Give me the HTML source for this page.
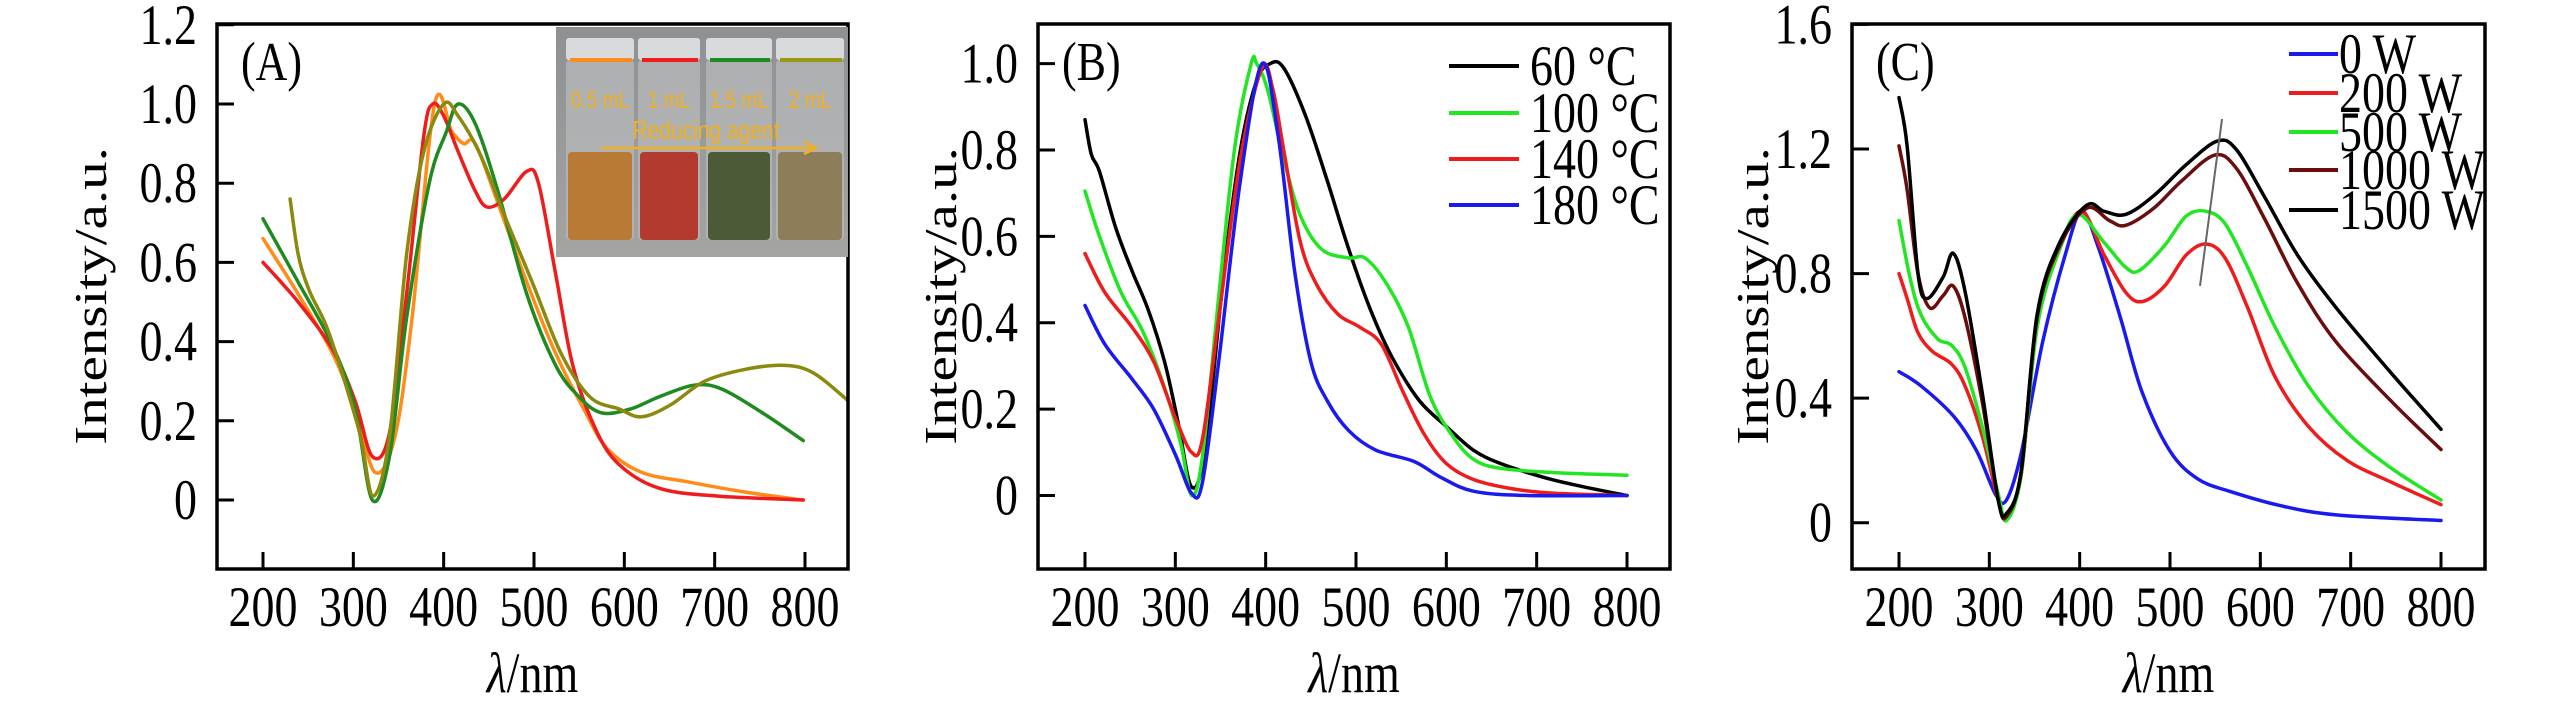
<!DOCTYPE html>
<html><head><meta charset="utf-8"><style>
html,body{margin:0;padding:0;background:#fff}
svg{display:block}
text{font-family:"Liberation Serif",serif;fill:#000}
text.sans{font-family:"Liberation Sans",sans-serif;fill:#f2b01e}
</style></head><body>
<svg id="fig" width="2567" height="709" viewBox="0 0 2567 709" xmlns="http://www.w3.org/2000/svg">
<defs>
<clipPath id="clipA"><rect x="217" y="24" width="631" height="546"/></clipPath>
<clipPath id="clipB"><rect x="1038" y="24" width="632" height="545"/></clipPath>
<clipPath id="clipC"><rect x="1852" y="24" width="633" height="545"/></clipPath>
<linearGradient id="bg" x1="0" y1="0" x2="0" y2="1"><stop offset="0" stop-color="#8e9092"/><stop offset="1" stop-color="#a4a4a2"/></linearGradient>
</defs>
<g id="panelA"></g>
<g id="panelB"></g>
<g id="panelC"></g>
</svg>
<script>
// ---------- data ----------
const xTicks = [200,300,400,500,600,700,800];
const yTicksA = [0,0.2,0.4,0.6,0.8,1.0,1.2];
const yTickLabelsA = ["0","0.2","0.4","0.6","0.8","1.0","1.2"];
const yTicksB = [0,0.2,0.4,0.6,0.8,1.0];
const yTickLabelsB = ["0","0.2","0.4","0.6","0.8","1.0"];
const yTicksC = [0,0.4,0.8,1.2,1.6];
const yTickLabelsC = ["0","0.4","0.8","1.2","1.6"];

const seriesNamesA = ["0.5 mL","1 mL","1.5 mL","2 mL"];
const a05 = [[200,0.66],[239,0.52],[277,0.37],[302,0.23],[324,0.07],[346,0.16],[365,0.46],[390,1.0],[409,0.93],[422,0.9],[435,0.9],[460,0.75],[492,0.55],[524,0.37],[555,0.23],[581,0.13],[619,0.07],[670,0.046],[734,0.02],[798,0]];
const a10 = [[200,0.6],[239,0.5],[277,0.38],[302,0.25],[321,0.11],[340,0.17],[359,0.52],[378,0.92],[388,1.0],[400,0.97],[416,0.88],[435,0.78],[448,0.74],[467,0.76],[492,0.83],[505,0.8],[524,0.57],[543,0.34],[568,0.18],[594,0.09],[638,0.03],[702,0.01],[798,0]];
const a15 = [[200,0.71],[239,0.55],[277,0.39],[302,0.23],[321,0],[340,0.11],[359,0.46],[384,0.8],[403,0.93],[416,1.0],[435,0.95],[460,0.78],[492,0.52],[524,0.34],[550,0.26],[575,0.22],[607,0.23],[638,0.26],[677,0.29],[708,0.28],[753,0.22],[798,0.15]];
const a20 = [[230,0.76],[239,0.62],[251,0.53],[270,0.44],[289,0.31],[308,0.16],[322,0.01],[340,0.16],[359,0.62],[378,0.88],[400,1.0],[416,0.97],[441,0.87],[467,0.72],[498,0.55],[530,0.37],[562,0.26],[594,0.23],[619,0.21],[651,0.24],[689,0.3],[734,0.33],[778,0.34],[810,0.32],[848,0.25]];

const seriesNamesB = ["60 °C","100 °C","140 °C","180 °C"];
const b60 = [[200,0.87],[207,0.79],[216,0.75],[234,0.62],[252,0.52],[270,0.43],[288,0.31],[303,0.17],[318,0.02],[333,0.11],[354,0.52],[372,0.8],[390,0.96],[405,1.0],[420,0.99],[444,0.88],[468,0.73],[492,0.57],[516,0.43],[540,0.32],[570,0.22],[600,0.16],[630,0.105],[660,0.074],[708,0.042],[750,0.021],[800,0]];
const b100 = [[200,0.705],[216,0.6],[240,0.47],[264,0.38],[288,0.25],[306,0.12],[318,0],[330,0.09],[348,0.46],[366,0.81],[384,1.0],[390,1.0],[402,0.94],[420,0.78],[438,0.65],[462,0.57],[492,0.55],[510,0.55],[534,0.49],[558,0.39],[582,0.23],[606,0.14],[630,0.084],[660,0.063],[720,0.053],[800,0.047]];
const b140 = [[200,0.56],[222,0.47],[252,0.39],[276,0.31],[300,0.18],[318,0.1],[330,0.13],[348,0.41],[372,0.78],[396,0.99],[408,0.94],[420,0.8],[438,0.59],[456,0.49],[480,0.42],[504,0.39],[528,0.35],[552,0.24],[576,0.14],[600,0.074],[630,0.037],[672,0.016],[720,0.005],[800,0]];
const b180 = [[200,0.44],[222,0.35],[252,0.27],[276,0.2],[300,0.095],[318,0.005],[330,0.03],[348,0.31],[372,0.73],[396,1.0],[414,0.83],[432,0.52],[450,0.31],[468,0.22],[492,0.15],[522,0.105],[564,0.079],[594,0.042],[630,0.01],[690,0],[800,0]];

const seriesNamesC = ["0 W","200 W","500 W","1000 W","1500 W"];
const c0 = [[200,0.485],[224,0.44],[261,0.34],[286,0.23],[307,0.09],[319,0.073],[335,0.22],[359,0.58],[384,0.86],[402,1.0],[420,0.89],[445,0.66],[469,0.42],[500,0.23],[531,0.14],[567,0.1],[622,0.055],[684,0.025],[800,0.007]];
const c200 = [[200,0.8],[209,0.72],[221,0.61],[237,0.55],[258,0.51],[273,0.44],[292,0.28],[310,0.07],[319,0.015],[335,0.15],[353,0.63],[378,0.88],[402,1.0],[427,0.86],[451,0.74],[469,0.71],[494,0.76],[518,0.86],[540,0.895],[561,0.85],[586,0.69],[616,0.47],[653,0.31],[696,0.2],[745,0.13],[800,0.058]];
const c500 = [[200,0.97],[212,0.79],[224,0.67],[243,0.59],[258,0.57],[273,0.5],[292,0.31],[310,0.09],[319,0.007],[335,0.15],[353,0.63],[378,0.88],[398,0.99],[427,0.9],[451,0.82],[466,0.81],[494,0.89],[518,0.985],[540,1.0],[561,0.96],[586,0.82],[616,0.63],[653,0.44],[696,0.29],[745,0.175],[800,0.073]];
const c1000 = [[200,1.21],[209,1.07],[221,0.8],[234,0.69],[249,0.73],[260,0.76],[273,0.66],[292,0.39],[310,0.07],[319,0.02],[335,0.16],[353,0.66],[378,0.89],[408,1.01],[433,0.97],[451,0.955],[482,1.01],[512,1.095],[549,1.18],[573,1.14],[604,0.98],[641,0.77],[684,0.58],[745,0.39],[800,0.235]];
const c1500 = [[200,1.365],[209,1.21],[221,0.8],[231,0.72],[249,0.79],[260,0.865],[273,0.745],[292,0.42],[310,0.07],[319,0.03],[335,0.16],[353,0.67],[378,0.9],[408,1.02],[427,1.0],[451,0.99],[482,1.05],[518,1.15],[552,1.225],[573,1.2],[604,1.05],[641,0.86],[684,0.69],[745,0.48],[800,0.3]];

// ---------- helpers ----------
const NS = "http://www.w3.org/2000/svg";
function mk(tag, attrs, parent){const e=document.createElementNS(NS,tag);for(const k in attrs)e.setAttribute(k,attrs[k]);parent.appendChild(e);return e;}
function axis(x0,x1,px0,px1){return v=>px0+(v-x0)*(px1-px0)/(x1-x0);}
function smoothPath(pts){
  let d="M"+pts[0][0].toFixed(1)+","+pts[0][1].toFixed(1);
  for(let i=0;i<pts.length-1;i++){
    const p0=pts[i-1]||pts[i],p1=pts[i],p2=pts[i+1],p3=pts[i+2]||p2;
    const c1=[p1[0]+(p2[0]-p0[0])/6,p1[1]+(p2[1]-p0[1])/6];
    const c2=[p2[0]-(p3[0]-p1[0])/6,p2[1]-(p3[1]-p1[1])/6];
    d+=" C"+c1[0].toFixed(1)+","+c1[1].toFixed(1)+" "+c2[0].toFixed(1)+","+c2[1].toFixed(1)+" "+p2[0].toFixed(1)+","+p2[1].toFixed(1);
  }
  return d;
}
const FS = 46, SY = 1.24;
// stretched text (tall narrow glyphs like the reference)
function stxt(parent,x,y,str,anchor,fs,sy){
  return mk("text",{x:0,y:0,"font-size":fs,"text-anchor":anchor,transform:"translate("+x+","+y+") scale(1,"+sy+")"},parent);
}
function panel(g,cfg){
  const X=axis(200,800,cfg.x200,cfg.x800), Y=axis(0,cfg.yRef,cfg.y0,cfg.yRefPx);
  const sg=mk("g",{"clip-path":"url(#"+cfg.clip+")"},g);
  cfg.series.forEach((s,i)=>{
    const p=mk("path",{d:smoothPath(s.data.map(q=>[X(q[0]),Y(q[1])])),fill:"none",stroke:s.color,"stroke-width":3.5,"stroke-linejoin":"round","stroke-linecap":"round"},sg);
    
    
  });
  const fr=mk("rect",{x:cfg.L,y:cfg.T,width:cfg.R-cfg.L,height:cfg.B-cfg.T,fill:"none",stroke:"#000","stroke-width":3.5},g);
  
  
  xTicks.forEach(t=>{
    const l=mk("line",{x1:X(t),x2:X(t),y1:cfg.B,y2:cfg.B-17,stroke:"#000","stroke-width":3},g);
    
    
    const tx=stxt(g,X(t),626,"","middle",FS,SY);tx.textContent=t;
    
    
  });
  cfg.yTicks.forEach((t,i)=>{
    const l=mk("line",{x1:cfg.L,x2:cfg.L+17,y1:Y(t),y2:Y(t),stroke:"#000","stroke-width":3},g);
    
    
    const tx=stxt(g,cfg.L-20,Y(t)+19,"","end",FS,SY);tx.textContent=cfg.yLabels[i];
    
    
  });
  const xl=stxt(g,(cfg.L+cfg.R)/2,692,"","middle",FS,SY);
  xl.innerHTML='<tspan font-style="italic">λ</tspan>/nm';
  
  
  const yl=mk("text",{x:0,y:0,"font-size":FS,"text-anchor":"middle",transform:"translate("+cfg.yTitleX+",296) rotate(-90) scale("+SY+",1)"},g);
  yl.textContent="Intensity/a.u.";
  
  
  const pl=stxt(g,cfg.L+24,80,"","start",44,SY);pl.textContent=cfg.tag;
  
  
}

// ---------- Panel A ----------
const gA=document.getElementById("panelA");
panel(gA,{L:217,R:848,T:24,B:569,x200:263,x800:805,y0:500,yRef:1.0,yRefPx:104,clip:"clipA",
  yTicks:yTicksA,yLabels:yTickLabelsA,yTitleX:106,tag:"(A)",
  series:[{key:"0-5ml",data:a05,color:"#ff8c1a"},{key:"1ml",data:a10,color:"#ee1c1c"},{key:"1-5ml",data:a15,color:"#1f8a1f"},{key:"2ml",data:a20,color:"#8a8a10"}]});
(function(){
  const ig=mk("g",{},gA);
  
  
  mk("rect",{x:556,y:27,width:292,height:230,fill:"url(#bg)"},ig);
  const vx=[566,638,706,776], vw=[68,62,66,68];
  const liq=["#b87a35","#b33a2e","#4d5a38","#8d7d58"];
  const lineCol=["#ff8c1a","#ee1c1c","#1f8a1f","#9a9a10"];
  const labs=["0.5 mL","1 mL","1.5 mL","2 mL"];
  vx.forEach((x,i)=>{
    mk("rect",{x:x,y:38,width:vw[i],height:22,fill:"#d8dadc",rx:3},ig);
    mk("rect",{x:x,y:60,width:vw[i],height:180,fill:"#b4b6b8",rx:4,opacity:0.8},ig);
    mk("rect",{x:x+2,y:152,width:vw[i]-4,height:88,fill:liq[i],rx:4},ig);
    mk("line",{x1:x+4,x2:x+vw[i]-2,y1:60,y2:60,stroke:lineCol[i],"stroke-width":4},ig);
    const t=mk("text",{class:"sans",x:0,y:0,"text-anchor":"middle","font-size":19,transform:"translate("+(x+vw[i]/2)+",108) scale(1,1.25)"},ig);
    t.textContent=labs[i];
    
    
  });
  const rt=mk("text",{class:"sans",x:0,y:0,"text-anchor":"middle","font-size":21,transform:"translate(706,139) scale(1,1.25)"},ig);
  rt.textContent="Reducing agent";
  
  
  mk("line",{x1:601,x2:814,y1:148,y2:148,stroke:"#f2b01e","stroke-width":2.5},ig);
  mk("path",{d:"M804,142 L816,148 L804,154",fill:"none",stroke:"#f2b01e","stroke-width":2.5},ig);
})();

// ---------- Panel B ----------
const gB=document.getElementById("panelB");
panel(gB,{L:1038,R:1670,T:24,B:569,x200:1085,x800:1627,y0:495.5,yRef:1.0,yRefPx:63.6,clip:"clipB",
  yTicks:yTicksB,yLabels:yTickLabelsB,yTitleX:956,tag:"(B)",
  series:[{key:"60c",data:b60,color:"#000"},{key:"100c",data:b100,color:"#22e622"},{key:"140c",data:b140,color:"#ee1c1c"},{key:"180c",data:b180,color:"#1a1aee"}]});
const colB=["#000","#22e622","#ee1c1c","#1a1aee"], rowB=[66,113,159,205];
seriesNamesB.forEach((n,i)=>{
  const l=mk("line",{x1:1449,x2:1519,y1:rowB[i],y2:rowB[i],stroke:colB[i],"stroke-width":4},gB);
  
  
  const t=stxt(gB,1530,rowB[i]+19,"","start",46,SY);t.textContent=n;
  
  
});

// ---------- Panel C ----------
const gC=document.getElementById("panelC");
panel(gC,{L:1852,R:2485,T:24,B:569,x200:1899,x800:2441,y0:522.7,yRef:1.2,yRefPx:149,clip:"clipC",
  yTicks:yTicksC,yLabels:yTickLabelsC,yTitleX:1768,tag:"(C)",
  series:[{key:"0w",data:c0,color:"#1a1aee"},{key:"200w",data:c200,color:"#ee1c1c"},{key:"500w",data:c500,color:"#22e622"},{key:"1000w",data:c1000,color:"#6b0d0d"},{key:"1500w",data:c1500,color:"#000"}]});
const gl=mk("line",{x1:2200,y1:286,x2:2222,y2:119,stroke:"#666","stroke-width":2},gC);


const colC=["#1a1aee","#ee1c1c","#22e622","#6b0d0d","#000"], rowC=[54,93,132,170,210];
seriesNamesC.forEach((n,i)=>{
  const l=mk("line",{x1:2289,x2:2338,y1:rowC[i],y2:rowC[i],stroke:colC[i],"stroke-width":4},gC);
  
  
  const t=stxt(gC,2339,rowC[i]+19,"","start",46,SY);t.textContent=n;
  
  
});
</script>
</body></html>
